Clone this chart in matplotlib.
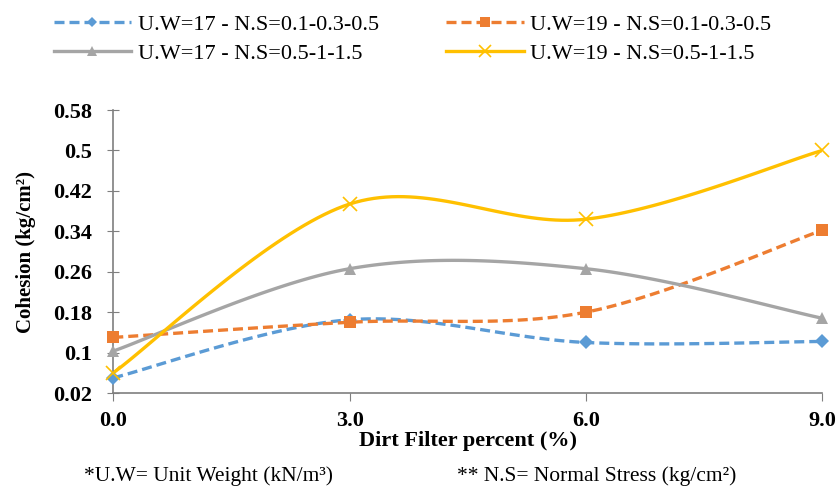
import numpy as np
import matplotlib.pyplot as plt
from matplotlib.lines import Line2D

plt.rcParams['font.family'] = ['Liberation Serif', 'DejaVu Serif']

dirt = [0.0, 3.0, 6.0, 9.0]
uw17_low = [0.05, 0.165, 0.12, 0.122]
uw19_low = [0.13, 0.16, 0.18, 0.342]
uw17_high = [0.103, 0.266, 0.266, 0.168]
uw19_high = [0.06, 0.394, 0.364, 0.50]
labels = ["U.W=17 - N.S=0.1-0.3-0.5", "U.W=19 - N.S=0.1-0.3-0.5",
          "U.W=17 - N.S=0.5-1-1.5", "U.W=19 - N.S=0.5-1-1.5"]
yticks = [0.02, 0.1, 0.18, 0.26, 0.34, 0.42, 0.5, 0.58]
xticks = [0.0, 3.0, 6.0, 9.0]


def smooth(xs, ys, n=40):
    # excel style smoothed line (catmull-rom through the points)
    p = np.column_stack([xs, ys]).astype(float)
    p = np.vstack([p[0], p, p[-1]])
    out = []
    for i in range(1, len(p) - 2):
        p0, p1, p2, p3 = p[i - 1], p[i], p[i + 1], p[i + 2]
        c1 = p1 + (p2 - p0) / 6
        c2 = p2 - (p3 - p1) / 6
        t = np.linspace(0, 1, n)[:, None]
        seg = (1 - t) ** 3 * p1 + 3 * (1 - t) ** 2 * t * c1 + 3 * (1 - t) * t ** 2 * c2 + t ** 3 * p2
        out.append(seg)
    out = np.vstack(out)
    return out[:, 0], out[:, 1]


fig = plt.figure(figsize=(8.39, 4.87), dpi=100)
ax = fig.add_axes([0.135, 0.193, 0.845, 0.581])

series = [
    (uw17_low, "#5B9BD5", (0, (3, 1.5)), "D", 7),
    (uw19_low, "#ED7D31", (0, (3, 1.5)), "s", 9),
    (uw17_high, "#A5A5A5", "-", "^", 9),
    (uw19_high, "#FFC000", "-", "x", 10),
]
handles = []
for (vals, col, ls, mk, ms), lab in zip(series, labels):
    sx, sy = smooth(dirt, vals)
    ax.plot(sx, sy, color=col, lw=2.4, ls=ls, zorder=2)
    ax.plot(dirt, vals, ls="none", marker=mk, ms=ms, color=col,
            mew=1.2 if mk == "x" else 0, zorder=3, clip_on=False)
    handles.append(Line2D([], [], color=col, lw=2.4, ls=ls, marker=mk, ms=ms * 0.8,
                          mew=1.2 if mk == "x" else 0))

ax.set_xlim(0, 9)
ax.set_ylim(0.02, 0.58)
ax.set_xticks(xticks)
ax.set_xticklabels([f"{v:.1f}" for v in xticks], fontsize=16, fontweight="bold")
ax.set_yticks(yticks)
ax.set_yticklabels([f"{v:g}" for v in yticks], fontsize=16, fontweight="bold")
ax.tick_params(axis="y", direction="inout", length=9, color="#7f7f7f", pad=11)
ax.tick_params(axis="x", direction="out", length=6, color="#7f7f7f", pad=7)
for s in ["top", "right"]:
    ax.spines[s].set_visible(False)
for s in ["left", "bottom"]:
    ax.spines[s].set_color("#7f7f7f")
    ax.spines[s].set_linewidth(1.2)

ax.set_ylabel("Cohesion (kg/cm²)", fontsize=15, fontweight="bold", labelpad=12)
ax.set_xlabel("Dirt Filter percent (%)", fontsize=16, fontweight="bold", labelpad=0)

order = [handles[0], handles[2], handles[1], handles[3]]
olabs = [labels[0], labels[2], labels[1], labels[3]]
fig.legend(order, olabs, loc="upper left", bbox_to_anchor=(0.04, 1.012), ncol=2,
           frameon=False, fontsize=16, handlelength=3.5, handletextpad=0.3,
           columnspacing=3.0, labelspacing=0.4)

fig.text(0.1, 0.012, "*U.W= Unit Weight (kN/m³)", fontsize=15.5)
fig.text(0.545, 0.012, "** N.S= Normal Stress (kg/cm²)", fontsize=15.5)

plt.savefig("out.png", dpi=100)
